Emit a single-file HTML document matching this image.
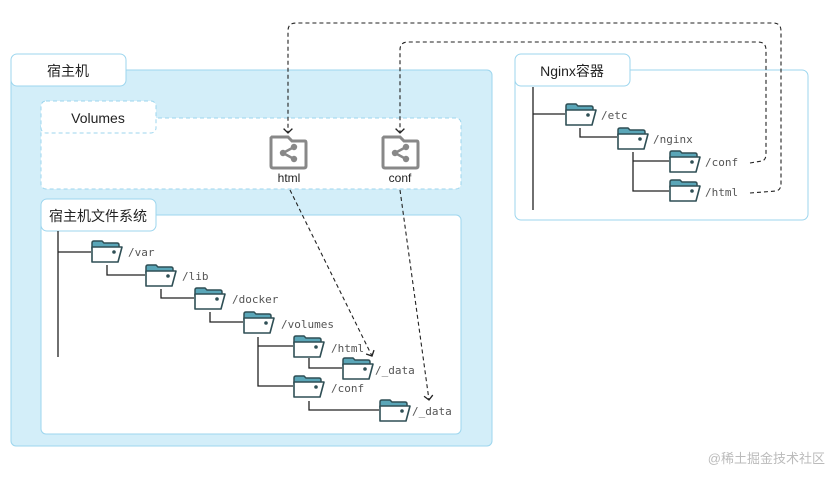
<!DOCTYPE html>
<html><head><meta charset="utf-8"><style>
body{margin:0;background:#fff;}
svg text{font-family:"Liberation Sans","Noto Sans CJK SC",sans-serif;}
.m{font-family:"DejaVu Sans Mono","Liberation Mono",monospace;font-size:11px;fill:#555;}
</style></head><body>
<svg width="839" height="473" viewBox="0 0 839 473" xmlns="http://www.w3.org/2000/svg">
<defs>
<g id="f">
<path d="M1 3 Q1 1 3 1 L11 1 L13 3 L26 3 Q28 3 28 5 L28 8 L1 8 Z" fill="#5aa6b8" stroke="#2f4f55" stroke-width="1.5"/>
<path d="M1 7 L31 7 L27 22 L1 22 Z" fill="#fff" stroke="#2f4f55" stroke-width="1.6" stroke-linejoin="round"/>
<circle cx="23" cy="12" r="1.8" fill="#2f4f55"/>
</g>
<g id="v">
<path d="M2 2 L18 2 L22 6 L35 6 Q36 6 36 8 L36 31 Q36 33 34 33 L3 33 Q1 33 1 31 L1 3 Z" fill="#fff" stroke="#888" stroke-width="3"/>
<circle cx="24" cy="12" r="3.2" fill="#888"/><circle cx="13" cy="18" r="3.2" fill="#888"/><circle cx="24" cy="24" r="3.2" fill="#888"/>
<path d="M24 12 L13 18 L24 24" fill="none" stroke="#888" stroke-width="2.5"/>
</g>
<marker id="a" markerWidth="10" markerHeight="10" refX="5" refY="5" orient="auto"><path d="M1 1 L5 5 L1 9" fill="none" stroke="#222" stroke-width="1.2"/></marker>
</defs>
<!-- host -->
<rect x="11" y="70" width="481" height="376" rx="5" fill="#d3eef9" stroke="#9dd6ee"/>
<rect x="11" y="54" width="115" height="32" rx="6" fill="#fff" stroke="#9dd6ee"/>
<text x="68" y="76" text-anchor="middle" font-size="14" fill="#222">宿主机</text>
<rect x="41" y="118" width="420" height="71" rx="5" fill="#fff" stroke="#9dd6ee" stroke-dasharray="4 3"/>
<rect x="41" y="101" width="115" height="32" rx="5" fill="#fff" stroke="#9dd6ee" stroke-dasharray="4 3"/>
<rect x="42" y="117" width="113" height="3" fill="#fff"/>
<text x="98" y="123" text-anchor="middle" font-size="14" fill="#222">Volumes</text>
<use href="#v" x="270" y="135"/><use href="#v" x="382" y="135"/>
<text x="289" y="182" text-anchor="middle" font-size="12" fill="#222">html</text>
<text x="400" y="182" text-anchor="middle" font-size="12" fill="#222">conf</text>
<rect x="41" y="215" width="420" height="219" rx="5" fill="#fff" stroke="#9dd6ee"/>
<rect x="41" y="199" width="115" height="32" rx="6" fill="#fff" stroke="#9dd6ee"/>
<text x="98" y="221" text-anchor="middle" font-size="14" fill="#222">宿主机文件系统</text>
<g stroke="#222" stroke-width="1.3" fill="none">
<path d="M58 231 V357 M58 252 H91"/>
<path d="M107 265 V275 H145"/>
<path d="M161 289 V298 H194"/>
<path d="M210 312 V322 H243"/>
<path d="M258 337 V386 H293 M258 346 H293"/>
<path d="M309 358 V368 H342"/>
<path d="M309 401 V410 H379"/>
</g>
<use href="#f" x="91" y="240"/><text class="m" x="128" y="256">/var</text>
<use href="#f" x="145" y="264"/><text class="m" x="182" y="280">/lib</text>
<use href="#f" x="194" y="287"/><text class="m" x="232" y="303">/docker</text>
<use href="#f" x="243" y="311"/><text class="m" x="281" y="328">/volumes</text>
<use href="#f" x="293" y="335"/><text class="m" x="331" y="352">/html</text>
<use href="#f" x="342" y="357"/><text class="m" x="375" y="374">/_data</text>
<use href="#f" x="293" y="375"/><text class="m" x="331" y="392">/conf</text>
<use href="#f" x="379" y="399"/><text class="m" x="412" y="415">/_data</text>
<!-- nginx -->
<rect x="515" y="70" width="293" height="150" rx="6" fill="#fff" stroke="#9dd6ee"/>
<rect x="515" y="54" width="115" height="32" rx="6" fill="#fff" stroke="#9dd6ee"/>
<text x="572" y="76" text-anchor="middle" font-size="14" fill="#222">Nginx容器</text>
<g stroke="#222" stroke-width="1.3" fill="none">
<path d="M533 87 V210 M533 114 H565"/>
<path d="M580 128 V137 H617"/>
<path d="M633 152 V191 H669 M633 161 H669"/>
</g>
<use href="#f" x="565" y="103"/><text class="m" x="601" y="119">/etc</text>
<use href="#f" x="617" y="127"/><text class="m" x="653" y="143">/nginx</text>
<use href="#f" x="669" y="150"/><text class="m" x="705" y="166">/conf</text>
<use href="#f" x="669" y="179"/><text class="m" x="705" y="196">/html</text>
<!-- connectors -->
<g stroke="#222" stroke-width="1.1" fill="none" stroke-dasharray="4 3">
<path d="M750 163 L762 161 Q766 160 766 154 V50 Q766 42 758 42 H408 Q400 42 400 50 V133" marker-end="url(#a)"/>
<path d="M750 193 L776 191 Q781 190 781 184 V31 Q781 23 773 23 H296 Q288 23 288 31 V133" marker-end="url(#a)"/>
<path d="M290 190 L372 356" marker-end="url(#a)"/>
<path d="M400 190 L429 400" marker-end="url(#a)"/>
</g>
<text x="825" y="463" text-anchor="end" font-size="13" fill="#bbb">@稀土掘金技术社区</text>
</svg>
</body></html>
